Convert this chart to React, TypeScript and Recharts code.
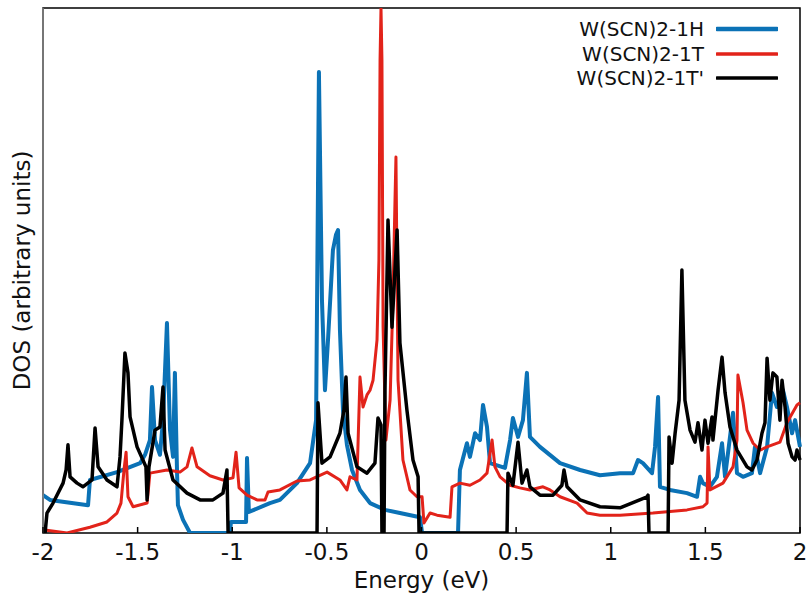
import React from 'react';
import {
  LineChart,
  Line,
  XAxis,
  YAxis,
  ReferenceArea,
  ReferenceLine,
} from 'recharts';

// Energy grid (eV) and DOS (arbitrary units) for each phase
const hEnergy = [
  -2.0, -1.963, -1.762, -1.752, -1.609, -1.487, -1.461, -1.435, -1.424, -1.408, -1.382, -1.366, -1.345,
  -1.329, -1.313, -1.303, -1.292, -1.287, -1.26, -1.223, -1.012, -1.007, -0.927, -0.922, -0.912, -0.801,
  -0.748, -0.658, -0.589, -0.557, -0.542, -0.526, -0.51, -0.494, -0.468, -0.452, -0.441, -0.431, -0.415,
  -0.394, -0.367, -0.325, -0.272, -0.193, -0.114, -0.008, 0.003, 0.193, 0.203, 0.24, 0.256, 0.283, 0.309,
  0.325, 0.346, 0.362, 0.441, 0.468, 0.483, 0.51, 0.536, 0.557, 0.573, 0.626, 0.732, 0.838, 0.943, 1.049,
  1.118, 1.144, 1.17, 1.218, 1.234, 1.25, 1.26, 1.313, 1.403, 1.456, 1.472, 1.487, 1.524, 1.561, 1.588,
  1.604, 1.646, 1.667, 1.699, 1.746, 1.762, 1.789, 1.826, 1.852, 1.878, 1.91, 1.931, 1.958, 1.974, 2.0,
];
const hDos = [
  7.2, 6.3, 5.3, 10.1, 11.6, 13.3, 14.9, 17.7, 27.8, 17.7, 14.9, 21.5, 40.0,
  19.6, 14.5, 30.5, 12.0, 5.3, 2.5, 0, 0, 2.1, 2.1, 14.3, 4.0, 5.7,
  6.3, 9.5, 13.3, 21.5, 87.8, 44.4, 27.2, 36.8, 53.9, 56.8, 57.7, 38.7, 23.4,
  16.8, 12.0, 8.2, 5.7, 4.4, 3.8, 3.0, 0, 0, 12.0, 17.1, 14.5, 19.0, 17.7,
  24.4, 20.2, 13.3, 12.4, 17.7, 21.9, 18.3, 21.5, 30.5, 18.3, 16.4, 13.3, 12.0, 11.0, 11.4,
  11.4, 13.9, 13.3, 11.4, 16.4, 25.9, 8.8, 8.2, 7.6, 6.9, 10.7, 9.5, 8.8, 10.7, 17.1,
  10.7, 22.9, 11.4, 10.7, 11.4, 16.4, 11.4, 16.4, 26.7, 24.0, 27.2, 24.0, 19.0, 21.5, 16.4,
];

const tEnergy = [
  -2.0, -1.873, -1.752, -1.662, -1.609, -1.588, -1.572, -1.561, -1.551, -1.524, -1.45, -1.435, -1.345,
  -1.276, -1.239, -1.213, -1.186, -1.118, -1.049, -0.996, -0.98, -0.964, -0.922, -0.869, -0.827, -0.811,
  -0.748, -0.658, -0.589, -0.499, -0.431, -0.394, -0.378, -0.341, -0.325, -0.309, -0.288, -0.272, -0.256,
  -0.235, -0.225, -0.219, -0.214, -0.209, -0.203, -0.188, -0.166, -0.151, -0.14, -0.135, -0.124, -0.098,
  -0.061, -0.024, 0.003, 0.013, 0.045, 0.082, 0.151, 0.161, 0.203, 0.256, 0.309, 0.346, 0.373, 0.388,
  0.415, 0.468, 0.52, 0.573, 0.642, 0.679, 0.732, 0.822, 0.875, 0.943, 1.049, 1.223, 1.403, 1.487, 1.509,
  1.514, 1.524, 1.593, 1.646, 1.667, 1.672, 1.699, 1.72, 1.752, 1.789, 1.826, 1.894, 1.931, 1.984, 2.0,
];
const tDos = [
  0.6, 0, 1.1, 2.1, 3.8, 5.7, 12.0, 15.4, 6.9, 5.0, 5.7, 11.4, 12.0,
  11.6, 12.6, 16.2, 12.6, 10.9, 10.1, 10.5, 15.4, 8.6, 7.2, 6.3, 6.3, 7.8,
  8.2, 9.9, 10.1, 11.6, 10.1, 8.2, 10.7, 10.1, 29.7, 24.0, 26.3, 27.2, 29.1,
  36.8, 52.0, 90.1, 100, 90.1, 39.2, 17.7, 25.3, 44.4, 63.4, 71.6, 29.1, 13.9,
  8.2, 6.9, 6.9, 1.9, 3.8, 3.4, 3.0, 8.8, 9.5, 9.1, 10.1, 11.4, 17.7, 12.6,
  10.7, 9.1, 8.6, 8.2, 8.8, 8.2, 6.9, 5.7, 3.8, 3.4, 3.4, 3.8, 4.4, 5.0, 5.7,
  16.4, 8.2, 9.5, 12.6, 17.7, 30.1, 24.8, 19.6, 17.1, 15.8, 16.4, 17.3, 21.0, 24.4, 24.8,
];

const tpEnergy = [
  -2.0, -1.989, -1.979, -1.947, -1.894, -1.878, -1.868, -1.857, -1.82, -1.789, -1.741, -1.725, -1.709,
  -1.662, -1.609, -1.593, -1.583, -1.567, -1.551, -1.54, -1.503, -1.472, -1.456, -1.45, -1.44, -1.408,
  -1.382, -1.366, -1.355, -1.313, -1.239, -1.17, -1.102, -1.049, -1.028, -1.022, -0.552, -0.547, -0.526,
  -0.483, -0.431, -0.41, -0.399, -0.388, -0.341, -0.288, -0.246, -0.23, -0.214, -0.209, -0.198, -0.193,
  -0.177, -0.156, -0.129, -0.114, -0.077, -0.045, -0.018, -0.013, 0.452, 0.457, 0.483, 0.51, 0.531, 0.557,
  0.573, 0.626, 0.695, 0.742, 0.753, 0.769, 0.838, 0.943, 1.049, 1.192, 1.197, 1.202, 1.303, 1.308, 1.324,
  1.34, 1.361, 1.376, 1.392, 1.419, 1.445, 1.461, 1.482, 1.498, 1.514, 1.535, 1.54, 1.567, 1.588, 1.604,
  1.63, 1.667, 1.72, 1.746, 1.773, 1.799, 1.815, 1.826, 1.841, 1.857, 1.878, 1.894, 1.905, 1.921, 1.937,
  1.958, 1.974, 1.984, 2.0,
];
const tpDos = [
  0, 0, 3.8, 5.7, 9.5, 12.0, 16.8, 10.7, 9.5, 8.8, 10.1, 20.0, 12.6,
  10.1, 8.8, 14.5, 21.5, 34.3, 30.5, 22.1, 16.4, 13.9, 12.6, 6.3, 12.6, 19.6,
  20.2, 27.8, 15.8, 10.1, 7.6, 6.3, 6.3, 7.6, 12.0, 0, 0, 24.8, 13.3,
  14.5, 19.0, 23.4, 29.7, 19.0, 12.6, 11.4, 13.3, 21.9, 20.6, 0, 0, 27.2,
  59.6, 39.2, 57.7, 36.2, 23.4, 13.9, 10.7, 0, 0, 11.4, 9.1, 17.3, 9.5, 12.0,
  8.8, 7.2, 7.2, 9.1, 12.0, 8.8, 6.3, 5.0, 4.8, 6.9, 7.2, 0, 0, 18.3, 13.3,
  19.0, 25.3, 50.1, 25.3, 19.6, 17.3, 21.0, 15.8, 21.5, 17.1, 22.1, 17.7, 27.2, 33.5, 26.7,
  20.2, 15.8, 12.6, 12.0, 13.9, 19.0, 21.0, 33.3, 25.3, 30.5, 29.7, 21.5, 29.1, 24.0, 17.1,
  14.5, 13.9, 15.8, 13.9,
];

const energyTicks = [-2, -1.5, -1, -0.5, 0, 0.5, 1, 1.5, 2];
const seriesNames = ['W(SCN)2-1H', 'W(SCN)2-1T', "W(SCN)2-1T'"];
const seriesColors = ['#0b72b6', '#e2231a', '#000000'];
const seriesWidths = [4, 3, 3.5];

const FONT = '"DejaVu Sans", Verdana, sans-serif';

const toRows = (energy: number[], dos: number[]) =>
  energy.map((e, i) => ({ energy: e, dos: dos[i] }));

const seriesData = [
  toRows(hEnergy, hDos),
  toRows(tEnergy, tDos),
  toRows(tpEnergy, tpDos),
];

// gnuplot style: ticks point into the plot, labels below
const BottomTick = (props: any) => {
  const { x, y, payload } = props;
  return (
    <g>
      <line x1={x} x2={x} y1={y} y2={y - 6} stroke="#000" strokeWidth={1.5} />
      <text
        x={x}
        y={y + 19}
        textAnchor="middle"
        dominantBaseline="central"
        fontFamily={FONT}
        fontSize={23}
        fill="#111"
      >
        {String(payload.value)}
      </text>
    </g>
  );
};

const TopTick = (props: any) => {
  const { x, y } = props;
  return <line x1={x} x2={x} y1={y} y2={y + 6} stroke="#000" strokeWidth={1.5} />;
};

// key sits inside the plot, top right, so it is laid over the chart
const LegendBox = () => (
  <div
    style={{
      position: 'absolute',
      top: 17,
      left: 560,
      width: 218,
      fontFamily: FONT,
      fontSize: 20,
      color: '#111',
    }}
  >
    {seriesNames.map((name, i) => (
      <div
        key={name}
        style={{
          height: 24.5,
          display: 'flex',
          alignItems: 'center',
          justifyContent: 'flex-end',
          background: 'transparent',
        }}
      >
        <span style={{ lineHeight: '20px' }}>{name}</span>
        <svg width={62} height={8} style={{ marginLeft: 12 }}>
          <line
            x1={1}
            x2={61}
            y1={4}
            y2={4}
            stroke={seriesColors[i]}
            strokeWidth={i === 0 ? 4.5 : 3.5}
            strokeLinecap="round"
          />
        </svg>
      </div>
    ))}
  </div>
);

export default function App() {
  return (
    <div style={{ position: 'absolute', left: 0, top: 0, width: 808, height: 594, background: '#fff' }}>
      <LineChart
        width={808}
        height={594}
        margin={{ top: 8, right: 8, bottom: 0, left: 0 }}
      >
        <XAxis
          xAxisId="bottom"
          dataKey="energy"
          type="number"
          domain={[-2, 2]}
          ticks={energyTicks}
          interval={0}
          height={61}
          tickSize={0}
          tickMargin={0}
          axisLine={false}
          tick={<BottomTick />}
          allowDuplicatedCategory={false}
          label={{
            value: 'Energy (eV)',
            position: 'insideBottom',
            offset: 6,
            style: { fontFamily: FONT, fontSize: 23, fill: '#111' },
          }}
        />
        <XAxis
          xAxisId="top"
          orientation="top"
          dataKey="energy"
          type="number"
          domain={[-2, 2]}
          ticks={energyTicks}
          interval={0}
          height={0}
          tickSize={0}
          tickMargin={0}
          axisLine={false}
          tick={<TopTick />}
          allowDuplicatedCategory={false}
        />
        <YAxis
          type="number"
          domain={[0, 100]}
          allowDataOverflow
          width={43}
          tick={false}
          tickLine={false}
          axisLine={false}
          label={{
            value: 'DOS (arbitrary units)',
            angle: -90,
            position: 'center',
            style: { fontFamily: FONT, fontSize: 23, fill: '#111', textAnchor: 'middle' },
          }}
        />
        {seriesNames.map((name, i) => (
          <Line
            key={name}
            xAxisId="bottom"
            data={seriesData[i]}
            dataKey="dos"
            name={name}
            type="linear"
            stroke={seriesColors[i]}
            strokeWidth={seriesWidths[i]}
            strokeLinejoin="round"
            dot={false}
            activeDot={false}
            isAnimationActive={false}
          />
        ))}
        <ReferenceArea
          xAxisId="bottom"
          x1={-2}
          x2={2}
          y1={0}
          y2={100}
          fill="none"
          stroke="#000"
          strokeWidth={1.5}
          fillOpacity={0}
        />
        <ReferenceLine xAxisId="bottom" x={-2} stroke="#8a8a8a" strokeWidth={1.5} />
      </LineChart>
      <LegendBox />
    </div>
  );
}
